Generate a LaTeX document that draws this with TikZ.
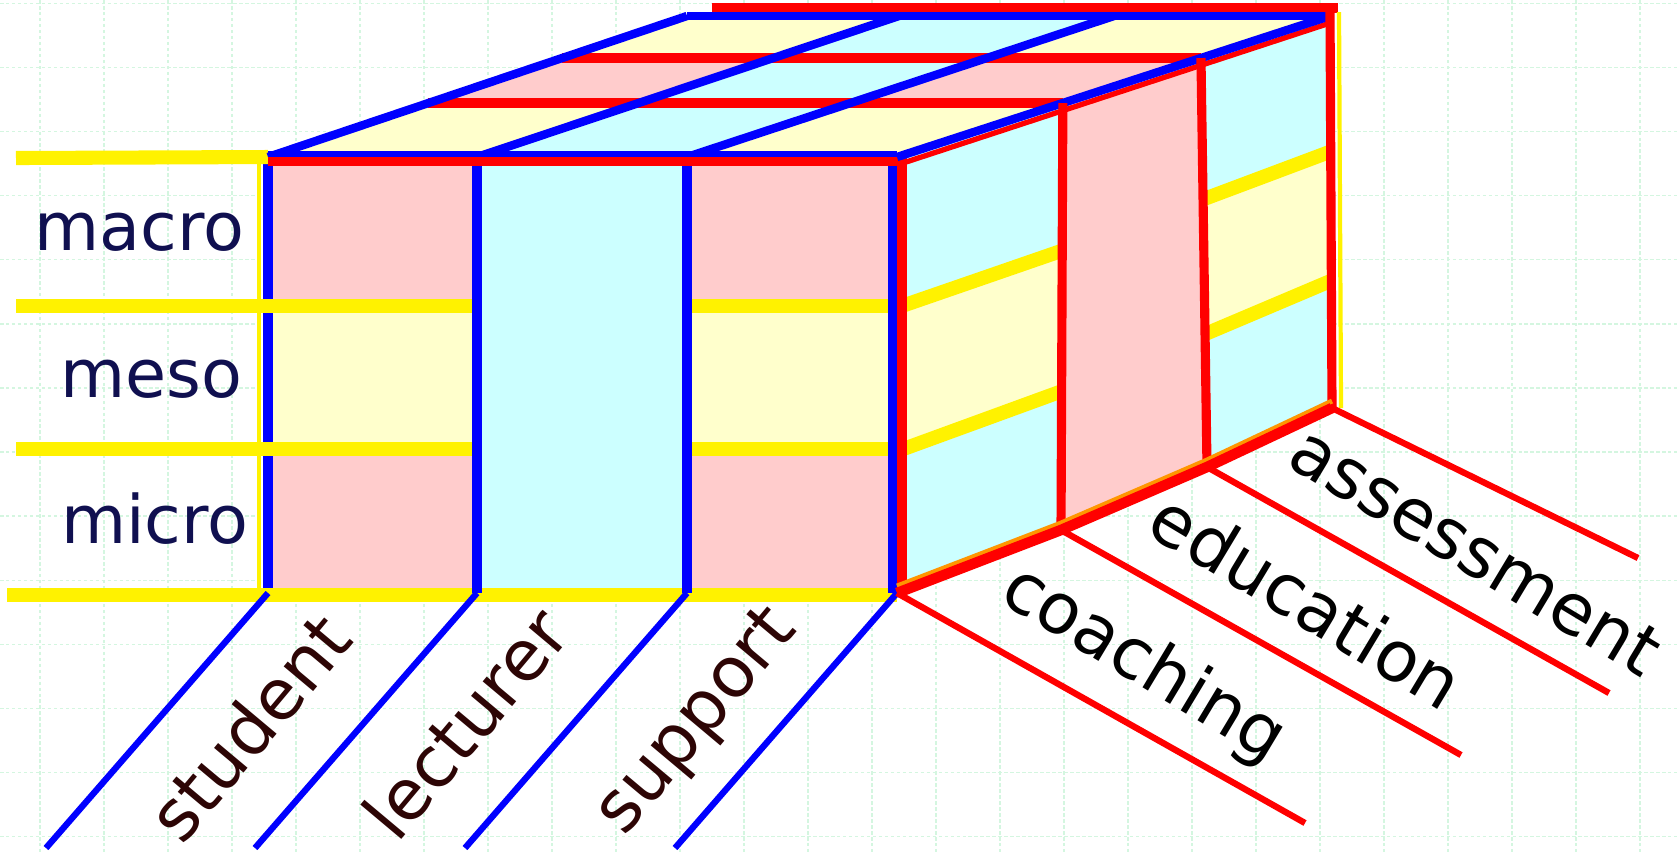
\documentclass[tikz,border=0pt]{standalone}
\usepackage{fontspec}
\setmainfont{DejaVu Sans}
\usetikzlibrary{calc}

\definecolor{cellpink}{RGB}{255,204,204}
\definecolor{cellyellow}{RGB}{255,255,204}
\definecolor{cellcyan}{RGB}{204,255,255}
\definecolor{gridgreen}{RGB}{212,246,224}
\definecolor{levelnavy}{RGB}{16,16,80}
\definecolor{rolebrown}{RGB}{45,5,5}
\definecolor{fringe}{RGB}{255,150,0}

\tikzset{
  gridline/.style={gridgreen, line width=0.4pt, dash pattern=on 1pt off 0.7pt},
  levelline/.style={yellow, line width=4pt},
  roleline/.style={blue, line width=3pt},
  topline/.style={blue, line width=2.4pt},
  depthline/.style={red, line width=2.6pt},
  groundrole/.style={blue, line width=1.8pt},
  grounddepth/.style={red, line width=1.8pt},
  levellabel/.style={anchor=base east, inner sep=0pt, text=levelnavy, font=\fontsize{19}{22}\selectfont},
  rolelabel/.style={rotate=50, inner sep=0pt, text=rolebrown, font=\fontsize{20}{24}\selectfont},
  depthlabel/.style={rotate=-31, inner sep=0pt, text=black, font=\fontsize{20}{24}\selectfont}
}

\begin{document}
\begin{tikzpicture}[x=0.01cm, y=-0.01cm]
  \useasboundingbox (0,0) rectangle (1679,853);
  % background grid
  \foreach \gx in {0,...,25} \draw[gridline] ({40+64*\gx},0) -- ({40+64*\gx},853);
  \foreach \gy in {0,...,13} \draw[gridline] (0,{3.3+64.1*\gy}) -- (1679,{3.3+64.1*\gy});

  % corners of the block
  \coordinate (ft0) at (268,157); \coordinate (ft1) at (477,157);
  \coordinate (ft2) at (687,157); \coordinate (ft3) at (897,157);
  \coordinate (fb0) at (268,593); \coordinate (fb1) at (477,593);
  \coordinate (fb2) at (687,593); \coordinate (fb3) at (897,593);
  \coordinate (bt0) at (687,16);  \coordinate (bt1) at (899,16);
  \coordinate (bt2) at (1114,16); \coordinate (bt3) at (1330,16);
  \coordinate (rb1) at (1061,530); \coordinate (rb2) at (1207,467);
  \coordinate (rb3) at (1332,408);
  \foreach \i in {0,...,3} {
    \coordinate (ta\i) at ($(ft\i)!.383!(bt\i)$);
    \coordinate (tb\i) at ($(ft\i)!.702!(bt\i)$);
  }
  \foreach \j/\tp/\bm in {0/ft3/fb3, 1/ta3/rb1, 2/tb3/rb2, 3/bt3/rb3} {
    \coordinate (rl\j) at ($(\tp)!.3456!(\bm)$);
    \coordinate (rm\j) at ($(\tp)!.675!(\bm)$);
  }

  % front face
  \fill[cellpink]   (268,157) rectangle (477,306);
  \fill[cellyellow] (268,306) rectangle (477,449);
  \fill[cellpink]   (268,449) rectangle (477,593);
  \fill[cellcyan]   (477,157) rectangle (687,593);
  \fill[cellpink]   (687,157) rectangle (897,306);
  \fill[cellyellow] (687,306) rectangle (897,449);
  \fill[cellpink]   (687,449) rectangle (897,593);

  % top face
  \foreach \i/\k in {0/1, 2/3} {
    \fill[cellyellow] (ft\i) -- (ft\k) -- (ta\k) -- (ta\i) -- cycle;
    \fill[cellpink]   (ta\i) -- (ta\k) -- (tb\k) -- (tb\i) -- cycle;
    \fill[cellyellow] (tb\i) -- (tb\k) -- (bt\k) -- (bt\i) -- cycle;
  }
  \fill[cellcyan] (ft1) -- (ft2) -- (bt2) -- (bt1) -- cycle;

  % right face
  \fill[cellcyan]   (ft3) -- (ta3) -- (rl1) -- (rl0) -- cycle;
  \fill[cellyellow] (rl0) -- (rl1) -- (rm1) -- (rm0) -- cycle;
  \fill[cellcyan]   (rm0) -- (rm1) -- (rb1) -- (fb3) -- cycle;
  \fill[cellpink]   (ta3) -- (tb3) -- (rb2) -- (rb1) -- cycle;
  \fill[cellcyan]   (tb3) -- (bt3) -- (rl3) -- (rl2) -- cycle;
  \fill[cellyellow] (rl2) -- (rl3) -- (rm3) -- (rm2) -- cycle;
  \fill[cellcyan]   (rm2) -- (rm3) -- (rb3) -- (rb2) -- cycle;

  % levels
  \draw[roleline] (ft0) -- (fb0);
  \draw[yellow, line width=1.2pt] ($(ft0)+(-9,0)$) -- ($(fb0)+(-9,0)$);
  \draw[levelline] (16,158) -- (ft0);
  \draw[levelline] (16,306) -- (477,306) (687,306) -- (897,306);
  \draw[levelline] (16,449) -- (477,449) (687,449) -- (897,449);
  \draw[levelline] (7,595) -- (897,595);
  \draw[levelline] (rl0) -- (rl1) (rm0) -- (rm1);   % coaching
  \draw[levelline] (rl2) -- (rl3) (rm2) -- (rm3);   % assessment

  % roles
  \draw[roleline] (ft1) -- (fb1) (ft2) -- (fb2);
  \draw[roleline] ($(ft3)+(-4,0)$) -- ($(fb3)+(-4,0)$);
  \draw[depthline] ($(ft3)+(5,0)$) -- ($(fb3)+(5,0)$);

  % depth lines on top
  \draw[depthline] (ta0) -- (ta3) (tb0) -- (tb3);
  \draw[red, line width=1.5pt] ($(ft3)+(6,6)$) -- ($(bt3)+(0,7)$);
  \foreach \i in {0,...,3} \draw[topline] (ft\i) -- (bt\i);
  \draw[depthline] ($(bt0)+(25,-8)$) -- ($(bt3)+(8,-8)$);
  \draw[topline] (bt0) -- (bt3);
  \draw[depthline] ($(ft0)+(0,4)$) -- ($(ft3)+(0,4)$);
  \draw[blue, line width=1.6pt] ($(ft0)+(0,-3)$) -- ($(ft3)+(0,-3)$);

  % right face dividers
  \draw[depthline] (ta3) -- (rb1) (tb3) -- (rb2);
  \draw[yellow, line width=1.2pt] ($(bt3)+(9,-4)$) -- ($(rb3)+(9,0)$);
  \draw[depthline] ($(bt3)+(0,-4)$) -- (rb3);
  \draw[fringe, line width=1.4pt] ($(fb3)+(0,-7)$) -- ($(rb1)+(0,-7)$) -- ($(rb2)+(0,-7)$) -- ($(rb3)+(0,-7)$);
  \draw[red, line width=3pt, line join=round] (fb3) -- (rb1) -- (rb2) -- (rb3);

  % ground lines
  \foreach \i in {0,...,3} {
    \coordinate (gr\i) at ($(fb\i)+(-222,255)$);
    \draw[groundrole] (fb\i) -- (gr\i);
  }
  \coordinate (gd0) at (1305,823); \coordinate (gd1) at (1461,755);
  \coordinate (gd2) at (1609,693); \coordinate (gd3) at (1638,558);
  \draw[grounddepth] (fb3) -- (gd0);
  \draw[grounddepth] (rb1) -- (gd1);
  \draw[grounddepth] (rb2) -- (gd2);
  \draw[grounddepth] (rb3) -- (gd3);

  % labels
  \node[levellabel] (macro) at (245,250) {macro};
  \node[levellabel] (meso)  at (243,397) {meso};
  \node[levellabel] (micro) at (249,543) {micro};
  \node[rolelabel] (student)  at (249,727) {student};
  \node[rolelabel] (lecturer) at (465,723) {lecturer};
  \node[rolelabel] (support)  at (698,723) {support};
  \node[depthlabel] (coaching)   at (1143,665) {coaching};
  \node[depthlabel] (education)  at (1307,600) {education};
  \node[depthlabel] (assessment) at (1476,551) {assessment};
\end{tikzpicture}
\end{document}
